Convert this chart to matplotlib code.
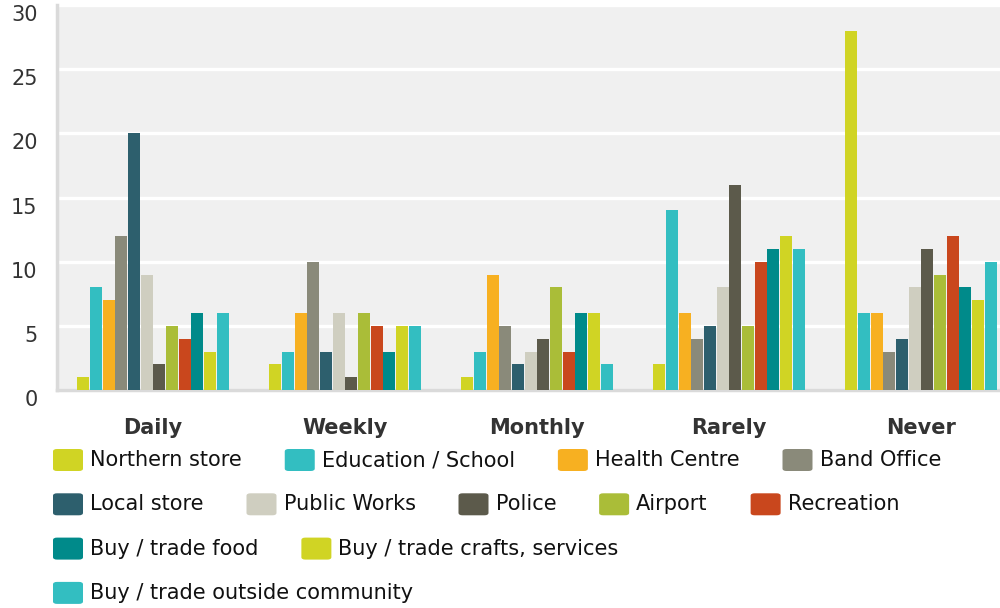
import numpy as np
import matplotlib
matplotlib.use("Agg")
from matplotlib import pyplot as plt
from matplotlib.patches import FancyBboxPatch

plt.rcParams["font.family"] = ["DejaVu Sans"]

CATEGORIES = ["Daily", "Weekly", "Monthly", "Rarely", "Never"]
SERIES = [
    "Northern store",
    "Education / School",
    "Health Centre",
    "Band Office",
    "Local store",
    "Public Works",
    "Police",
    "Airport",
    "Recreation",
    "Buy / trade food",
    "Buy / trade crafts, services",
    "Buy / trade outside community",
]
COLORS = [
    "#D0D424", "#33BEC1", "#F7B021", "#8A8A7A", "#2D5F6D", "#CFCEC0",
    "#5C5A4B", "#AABD38", "#C9471D", "#008A8A", "#D0D424", "#33BEC1",
]

northern_store = [1, 2, 1, 2, 28]
education_school = [8, 3, 3, 14, 6]
health_centre = [7, 6, 9, 6, 6]
band_office = [12, 10, 5, 4, 3]
local_store = [20, 3, 2, 5, 4]
public_works = [9, 6, 3, 8, 8]
police = [2, 1, 4, 16, 11]
airport = [5, 6, 8, 5, 9]
recreation = [4, 5, 3, 10, 12]
buy_food = [6, 3, 6, 11, 8]
buy_crafts = [3, 5, 6, 12, 7]
buy_outside = [6, 5, 2, 11, 10]

VALUES = [
    northern_store, education_school, health_centre, band_office, local_store,
    public_works, police, airport, recreation, buy_food, buy_crafts, buy_outside,
]

W, H = 1000, 608


def main():
    fig = plt.figure(figsize=(W / 100, H / 100), dpi=100)
    ax = fig.add_axes([57 / W, (H - 390) / H, 960 / W, 385 / H])
    ax.set_facecolor("#F0F0F0")

    x = np.arange(len(CATEGORIES))
    slot = 0.066
    for i, (vals, color) in enumerate(zip(VALUES, COLORS)):
        ax.bar(x + (i - 5.5) * slot, vals, width=0.0625, color=color, zorder=3)

    ax.set_xlim(-0.5, 4.5)
    ax.set_ylim(0, 30)
    ax.set_yticks(range(0, 31, 5))
    ax.set_xticks(x)
    ax.set_xticklabels(CATEGORIES, fontsize=15, fontweight="bold", color="#333333")
    ax.grid(axis="y", color="white", linewidth=2.4, zorder=1)
    ax.tick_params(axis="x", length=0, pad=20)
    ax.tick_params(axis="y", length=0, pad=14, labelsize=15, labelcolor="#333333")
    for lbl in ax.get_yticklabels():
        lbl.set_verticalalignment("top")
    for side in ("top", "right"):
        ax.spines[side].set_visible(False)
    for side in ("left", "bottom"):
        ax.spines[side].set_color("#DADADA")
        ax.spines[side].set_linewidth(2.5)

    # flow legend below the plot
    renderer = fig.canvas.get_renderer()
    left, right_limit = 53, 990
    row_y = 460
    cur = left
    for name, color in zip(SERIES, COLORS):
        t = fig.text(0, 0, name, fontsize=15, color="#111111", va="center", ha="left")
        tw = t.get_window_extent(renderer).width
        item_w = 37 + tw
        if cur > left and cur + item_w > right_limit:
            cur = left
            row_y += 44.3
        fig.patches.append(FancyBboxPatch(
            (cur / W, (H - row_y - 11) / H), 30 / W, 22 / H,
            boxstyle="round,pad=0,rounding_size=0.004",
            transform=fig.transFigure, facecolor=color, edgecolor="none",
        ))
        t.set_position(((cur + 37) / W, (H - row_y) / H))
        cur += item_w + 43

    fig.savefig("out.png", dpi=100)


if __name__ == "__main__":
    main()
